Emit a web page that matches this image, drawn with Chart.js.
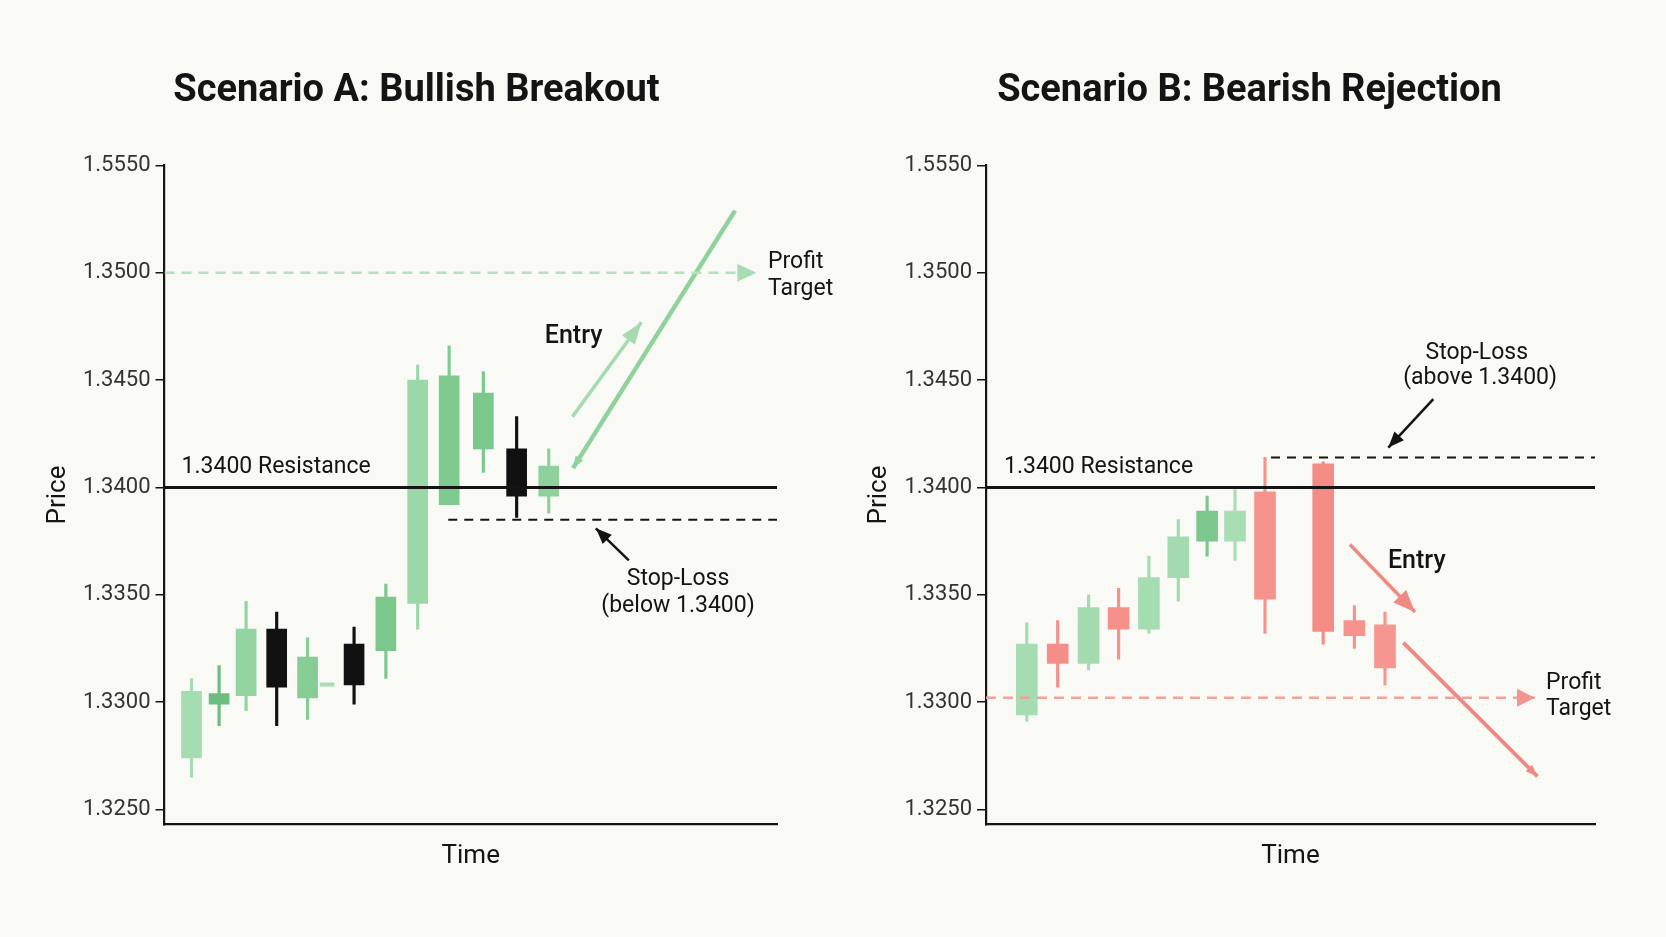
<!DOCTYPE html>
<html><head><meta charset="utf-8">
<script src="https://cdn.jsdelivr.net/npm/chart.js@4.4.1/dist/chart.umd.min.js"></script>
<style>
html,body{margin:0;padding:0;background:#f9f9f6;}
#wrap{position:relative;width:1666px;height:937px;overflow:hidden;background:#f9f9f6;}
.cell{position:absolute;top:0;width:833px;height:937px;}
</style></head><body>
<div id="wrap">
<div class="cell" style="left:0"><canvas id="chartA"></canvas></div>
<div class="cell" style="left:833px"><canvas id="chartB"></canvas></div>
</div>
<script>
// ---------- DATA ----------
const tickValues = [1.3250, 1.3300, 1.3350, 1.3400, 1.3450, 1.3500, 1.3550];
const tickLabels = ['1.3250', '1.3300', '1.3350', '1.3400', '1.3450', '1.3500', '1.5550'];
const resistanceLevel = 1.3400;

// Scenario A: Bullish Breakout
const timeA  = [0.90, 1.82, 2.72, 3.74, 4.77, 6.32, 7.38, 8.44, 9.49, 10.63, 11.74, 12.81];
const openA  = [1.3274, 1.3299, 1.3303, 1.3334, 1.3302, 1.3327, 1.3324, 1.3346, 1.3392, 1.3418, 1.3418, 1.3396];
const highA  = [1.3311, 1.3317, 1.3347, 1.3342, 1.3330, 1.3335, 1.3355, 1.3457, 1.3466, 1.3454, 1.3433, 1.3418];
const lowA   = [1.3265, 1.3289, 1.3296, 1.3289, 1.3292, 1.3299, 1.3311, 1.3334, 1.3392, 1.3407, 1.3386, 1.3388];
const closeA = [1.3305, 1.3304, 1.3334, 1.3307, 1.3321, 1.3308, 1.3349, 1.3450, 1.3452, 1.3444, 1.3396, 1.3410];
const dojiTimeA  = [5.42];
const dojiOpenA  = [1.33075];
const dojiCloseA = [1.33090];
const profitTargetA = 1.3500;
const stopLossA = 1.3385;
const stopLossStartA = 9.46;
const profitEndA = 19.73;
const entryArrowTimeA  = [13.60, 15.90];
const entryArrowPriceA = [1.3433, 1.3477];
const trendArrowTimeA  = [19.02, 13.62];
const trendArrowPriceA = [1.3529, 1.3409];
const stopArrowTimeA   = [15.48, 14.38];
const stopArrowPriceA  = [1.3366, 1.3381];

// Scenario B: Bearish Rejection
const timeB  = [1.36, 2.39, 3.42, 4.42, 5.43, 6.41, 7.37, 8.30, 9.30, 11.24, 12.28, 13.30];
const openB  = [1.3294, 1.3327, 1.3318, 1.3344, 1.3334, 1.3358, 1.3375, 1.3375, 1.3398, 1.3411, 1.3338, 1.3336];
const highB  = [1.3337, 1.3338, 1.3350, 1.3353, 1.3368, 1.3385, 1.3396, 1.3399, 1.3414, 1.3412, 1.3345, 1.3342];
const lowB   = [1.3291, 1.3307, 1.3315, 1.3320, 1.3332, 1.3347, 1.3368, 1.3366, 1.3332, 1.3327, 1.3325, 1.3308];
const closeB = [1.3327, 1.3318, 1.3344, 1.3334, 1.3358, 1.3377, 1.3389, 1.3389, 1.3348, 1.3333, 1.3331, 1.3316];
const profitTargetB = 1.3302;
const stopLossB = 1.3414;
const stopLossStartB = 9.50;
const profitEndB = 18.30;
const entryArrowTimeB  = [12.13, 14.30];
const entryArrowPriceB = [1.33734, 1.3342];
const trendArrowTimeB  = [13.91, 18.38];
const trendArrowPriceB = [1.33277, 1.32654];
const stopArrowTimeB   = [14.91, 13.41];
const stopArrowPriceB  = [1.34412, 1.34186];

// ---------- STYLES ----------
const candleColorsA = ['#a6dcb1', '#6cbd7f', '#93d4a0', '#111111', '#86cc95', '#111111', '#7cc78c', '#9bd8a8', '#7fca8f', '#7ac88b', '#111111', '#8fd19c'];
const candleColorsB = ['#a6dcb1', '#f38f88', '#a3dbae', '#f5908a', '#a6dcb1', '#a3dbaf', '#7bc78c', '#a9ddb4', '#f5938c', '#f48c86', '#f5938c', '#f59690'];

const FONT = 'Roboto';

function candleSets(times, open, high, low, close, colors, bodyW) {
  return [
    { type: 'bar', data: times.map((t, i) => ({ x: t, y: [low[i], high[i]] })),
      backgroundColor: colors, barThickness: 2.5, grouped: false, borderWidth: 0, order: 3 },
    { type: 'bar', data: times.map((t, i) => ({ x: t, y: [open[i], close[i]] })),
      backgroundColor: colors, barThickness: bodyW, grouped: false, borderWidth: 0, borderSkipped: false, order: 2 }
  ];
}
function lineSet(ts, vs, color, width, dash, head) {
  return { type: 'line', data: ts.map((t, i) => ({ x: t, y: vs[i] })),
    borderColor: color, borderWidth: width, borderDash: dash || [], pointRadius: 0,
    fill: false, tension: 0, order: 1, arrowHead: head || null, borderCapStyle: 'butt' };
}

const arrowPlugin = {
  id: 'arrowHeads',
  afterDatasetsDraw(chart) {
    const ctx = chart.ctx;
    chart.data.datasets.forEach((ds, i) => {
      if (!ds.arrowHead) return;
      const pts = chart.getDatasetMeta(i).data;
      const a = pts[pts.length - 2], b = pts[pts.length - 1];
      const ang = Math.atan2(b.y - a.y, b.x - a.x);
      const h = ds.arrowHead;
      ctx.save();
      ctx.translate(b.x, b.y);
      ctx.rotate(ang);
      ctx.beginPath();
      ctx.moveTo(0, 0);
      ctx.lineTo(-h.len, -h.wid / 2);
      ctx.lineTo(-h.len, h.wid / 2);
      ctx.closePath();
      ctx.fillStyle = h.color || ds.borderColor;
      ctx.fill();
      ctx.restore();
    });
  }
};
const textPlugin = {
  id: 'notes',
  afterDraw(chart) {
    const notes = chart.options.plugins.notes.items || [];
    const ctx = chart.ctx, xs = chart.scales.x, ys = chart.scales.y;
    ctx.save();
    notes.forEach(n => {
      ctx.font = (n.weight || 400) + ' ' + (n.size || 23) + 'px ' + FONT;
      ctx.fillStyle = '#141414';
      ctx.textAlign = n.align || 'left';
      ctx.textBaseline = 'middle';
      ctx.fillText(n.text, xs.getPixelForValue(n.t), ys.getPixelForValue(n.v));
    });
    ctx.restore();
  }
};

function makeChart(id, cfg) {
  return new Chart(document.getElementById(id), {
    type: 'bar',
    data: { datasets: cfg.datasets },
    plugins: [arrowPlugin, textPlugin],
    options: {
      responsive: true, maintainAspectRatio: false, animation: false,
      layout: { padding: { left: 0, right: 0, top: 0, bottom: 0 } },
      plugins: {
        legend: { display: false }, tooltip: { enabled: false },
        title: { display: true, text: cfg.title, color: '#141414',
          font: { family: FONT, size: 38, weight: '700' }, padding: { top: 68.5, bottom: 51.4 } },
        notes: { items: cfg.notes }
      },
      scales: {
        x: { type: 'linear', min: 0, max: cfg.xMax, offset: false,
          ticks: { display: false }, grid: { display: false, drawTicks: false },
          border: { display: true, color: '#141414', width: 2.2 },
          title: { display: true, text: 'Time', color: '#141414', font: { family: FONT, size: 26 }, padding: { top: 0, bottom: 65.4 } },
          afterFit(s) { s.height = 112.5; } },
        y: { type: 'linear', position: 'left', min: 1.3243, max: 1.3550,
          afterBuildTicks(s) { s.ticks = tickValues.map(v => ({ value: v })); },
          ticks: { callback: (v) => { const i = tickValues.findIndex(x => Math.abs(x - v) < 1e-9); return i >= 0 ? tickLabels[i] : ''; },
            font: { family: FONT, size: 22 }, color: '#333333', padding: 5 },
          grid: { display: true, drawOnChartArea: false, drawTicks: true, tickLength: 9, color: '#141414', lineWidth: 1.5 },
          border: { display: true, color: '#141414', width: 2.2 },
          title: { display: true, text: 'Price', color: '#141414', font: { family: FONT, size: 26 }, padding: { top: cfg.yTitlePad, bottom: 0 } },
          afterFit(s) { s.width = cfg.yWidth; } },
        yR: { type: 'linear', position: 'right', min: 0, max: 1,
          ticks: { display: false }, grid: { display: false, drawTicks: false }, border: { display: false },
          afterFit(s) { s.width = cfg.padRight; } }
      }
    }
  });
}

const xMaxA = 20.42, xMaxB = 20.30;

makeChart('chartA', {
  title: 'Scenario A: Bullish Breakout', xMax: xMaxA, padRight: 56, yWidth: 164.5, yTitlePad: 42.6,
  datasets: [
    ...candleSets(timeA, openA, highA, lowA, closeA, candleColorsA, 20),
    { type: 'bar', data: dojiTimeA.map((t, i) => ({ x: t, y: [dojiOpenA[i], dojiCloseA[i]] })),
      backgroundColor: '#a9dcb4', barThickness: 14, grouped: false, borderWidth: 0, order: 2 },
    lineSet([0, xMaxA], [resistanceLevel, resistanceLevel], '#141414', 3),
    lineSet([0, profitEndA], [profitTargetA, profitTargetA], '#b5e1bf', 2.5, [10, 7], { len: 19, wid: 18, color: '#a8dcb3' }),
    lineSet([stopLossStartA, xMaxA], [stopLossA, stopLossA], '#141414', 2, [9, 7]),
    lineSet(entryArrowTimeA, entryArrowPriceA, '#a6dbb1', 3.5, null, { len: 22, wid: 16 }),
    lineSet(trendArrowTimeA, trendArrowPriceA, '#8fd29c', 4.5, null, { len: 12, wid: 9 }),
    lineSet(stopArrowTimeA, stopArrowPriceA, '#141414', 2.5, null, { len: 16, wid: 13 })
  ],
  notes: [
    { text: '1.3400 Resistance', t: 0.57, v: 1.34096, align: 'left', size: 23 },
    { text: 'Entry', t: 13.64, v: 1.34702, align: 'center', size: 25, weight: 500 },
    { text: 'Profit', t: 20.12, v: 1.35048, align: 'left', size: 23 },
    { text: 'Target', t: 20.12, v: 1.34924, align: 'left', size: 23 },
    { text: 'Stop-Loss', t: 17.12, v: 1.33573, align: 'center', size: 23 },
    { text: '(below 1.3400)', t: 17.12, v: 1.33449, align: 'center', size: 23 }
  ]
});

makeChart('chartB', {
  title: 'Scenario B: Bearish Rejection', xMax: xMaxB, padRight: 71, yWidth: 153, yTitlePad: 31,
  datasets: [
    ...candleSets(timeB, openB, highB, lowB, closeB, candleColorsB, 21),
    lineSet([0, xMaxB], [resistanceLevel, resistanceLevel], '#141414', 3),
    lineSet([0, profitEndB], [profitTargetB, profitTargetB], '#f0a39d', 2.5, [10, 7], { len: 18, wid: 18, color: '#f0968f' }),
    lineSet([stopLossStartB, xMaxB], [stopLossB, stopLossB], '#141414', 2, [9, 7]),
    lineSet(entryArrowTimeB, entryArrowPriceB, '#ef8a82', 3.5, null, { len: 22, wid: 18 }),
    lineSet(trendArrowTimeB, trendArrowPriceB, '#ee8a83', 4, null, { len: 12, wid: 9 }),
    lineSet(stopArrowTimeB, stopArrowPriceB, '#141414', 2.5, null, { len: 16, wid: 13 })
  ],
  notes: [
    { text: '1.3400 Resistance', t: 0.60, v: 1.34094, align: 'left', size: 23 },
    { text: 'Entry', t: 14.36, v: 1.33656, align: 'center', size: 25, weight: 500 },
    { text: 'Stop-Loss', t: 16.36, v: 1.34624, align: 'center', size: 23 },
    { text: '(above 1.3400)', t: 16.47, v: 1.34507, align: 'center', size: 23 },
    { text: 'Profit', t: 18.67, v: 1.33087, align: 'left', size: 23 },
    { text: 'Target', t: 18.67, v: 1.32968, align: 'left', size: 23 }
  ]
});
</script>
</body></html>
